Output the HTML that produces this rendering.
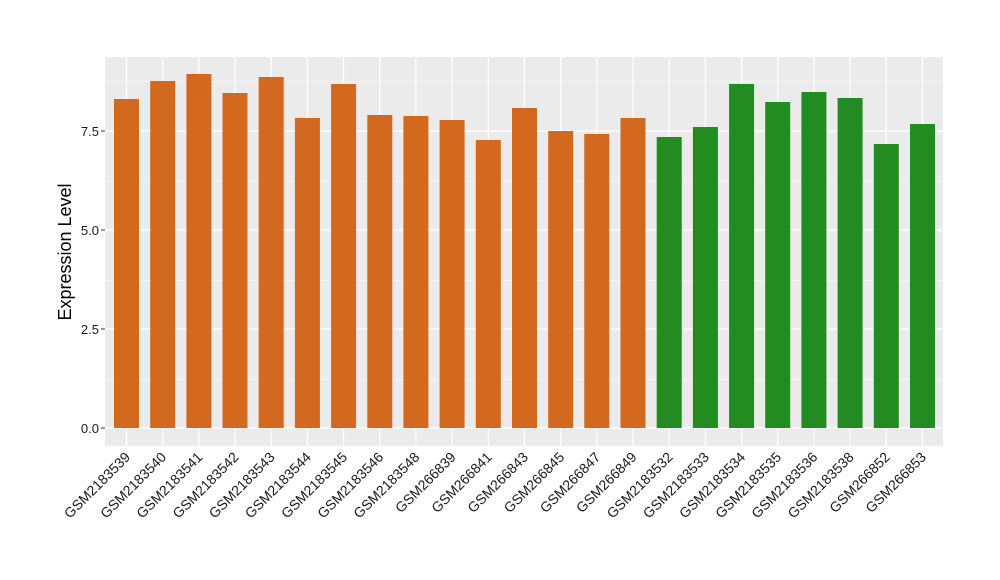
<!DOCTYPE html>
<html><head><style>body{margin:0;background:#fff}svg{display:block}text{font-family:"Liberation Sans",Arial,sans-serif}</style></head>
<body>
<svg width="1000" height="580" xmlns="http://www.w3.org/2000/svg">
<rect x="105" y="57" width="838" height="389" fill="#EBEBEB"/>
<g stroke="#fff" stroke-width="0.6">
<line x1="105" x2="943" y1="379.5" y2="379.5"/><line x1="105" x2="943" y1="280.5" y2="280.5"/><line x1="105" x2="943" y1="181" y2="181"/><line x1="105" x2="943" y1="81.5" y2="81.5"/>
</g>
<g stroke="#fff" stroke-width="1.2">
<line x1="105" x2="943" y1="428" y2="428"/><line x1="105" x2="943" y1="329" y2="329"/><line x1="105" x2="943" y1="230" y2="230"/><line x1="105" x2="943" y1="131" y2="131"/>
<line x1="126.5" x2="126.5" y1="57" y2="446"/><line x1="162.7" x2="162.7" y1="57" y2="446"/><line x1="198.9" x2="198.9" y1="57" y2="446"/><line x1="235" x2="235" y1="57" y2="446"/><line x1="271.2" x2="271.2" y1="57" y2="446"/><line x1="307.4" x2="307.4" y1="57" y2="446"/><line x1="343.6" x2="343.6" y1="57" y2="446"/><line x1="379.8" x2="379.8" y1="57" y2="446"/><line x1="415.9" x2="415.9" y1="57" y2="446"/><line x1="452.1" x2="452.1" y1="57" y2="446"/><line x1="488.3" x2="488.3" y1="57" y2="446"/><line x1="524.5" x2="524.5" y1="57" y2="446"/><line x1="560.7" x2="560.7" y1="57" y2="446"/><line x1="596.8" x2="596.8" y1="57" y2="446"/><line x1="633" x2="633" y1="57" y2="446"/><line x1="669.2" x2="669.2" y1="57" y2="446"/><line x1="705.4" x2="705.4" y1="57" y2="446"/><line x1="741.6" x2="741.6" y1="57" y2="446"/><line x1="777.7" x2="777.7" y1="57" y2="446"/><line x1="813.9" x2="813.9" y1="57" y2="446"/><line x1="850.1" x2="850.1" y1="57" y2="446"/><line x1="886.3" x2="886.3" y1="57" y2="446"/><line x1="922.5" x2="922.5" y1="57" y2="446"/>
</g>
<g fill="#D2691E">
<rect x="114" y="99" width="25" height="329"/><rect x="150.2" y="81" width="25" height="347"/><rect x="186.4" y="74" width="25" height="354"/><rect x="222.5" y="93" width="25" height="335"/><rect x="258.7" y="77" width="25" height="351"/><rect x="294.9" y="118" width="25" height="310"/><rect x="331.1" y="84" width="25" height="344"/><rect x="367.3" y="115" width="25" height="313"/><rect x="403.4" y="116" width="25" height="312"/><rect x="439.6" y="120" width="25" height="308"/><rect x="475.8" y="140" width="25" height="288"/><rect x="512" y="108" width="25" height="320"/><rect x="548.2" y="131" width="25" height="297"/><rect x="584.3" y="134" width="25" height="294"/><rect x="620.5" y="118" width="25" height="310"/>
</g>
<g fill="#228B22">
<rect x="656.7" y="137" width="25" height="291"/><rect x="692.9" y="127" width="25" height="301"/><rect x="729.1" y="84" width="25" height="344"/><rect x="765.2" y="102" width="25" height="326"/><rect x="801.4" y="92" width="25" height="336"/><rect x="837.6" y="98" width="25" height="330"/><rect x="873.8" y="144" width="25" height="284"/><rect x="910" y="124" width="25" height="304"/>
</g>
<g stroke="#333" stroke-width="1">
<line x1="101" x2="105" y1="428" y2="428"/><line x1="101" x2="105" y1="329" y2="329"/><line x1="101" x2="105" y1="230" y2="230"/><line x1="101" x2="105" y1="131" y2="131"/>
</g>
<g font-size="13" fill="#1a1a1a" text-anchor="end">
<text x="99" y="433">0.0</text><text x="99" y="334">2.5</text><text x="99" y="235">5.0</text><text x="99" y="136">7.5</text>
</g>
<text transform="translate(71,252) rotate(-90)" font-size="18" text-anchor="middle" fill="#000">Expression Level</text>
<g font-size="14" fill="#1a1a1a" text-anchor="end">
<text transform="translate(131,458) rotate(-45)">GSM2183539</text>
<text transform="translate(167.2,458) rotate(-45)">GSM2183540</text>
<text transform="translate(203.4,458) rotate(-45)">GSM2183541</text>
<text transform="translate(239.5,458) rotate(-45)">GSM2183542</text>
<text transform="translate(275.7,458) rotate(-45)">GSM2183543</text>
<text transform="translate(311.9,458) rotate(-45)">GSM2183544</text>
<text transform="translate(348.1,458) rotate(-45)">GSM2183545</text>
<text transform="translate(384.3,458) rotate(-45)">GSM2183546</text>
<text transform="translate(420.4,458) rotate(-45)">GSM2183548</text>
<text transform="translate(456.6,458) rotate(-45)">GSM266839</text>
<text transform="translate(492.8,458) rotate(-45)">GSM266841</text>
<text transform="translate(529,458) rotate(-45)">GSM266843</text>
<text transform="translate(565.2,458) rotate(-45)">GSM266845</text>
<text transform="translate(601.3,458) rotate(-45)">GSM266847</text>
<text transform="translate(637.5,458) rotate(-45)">GSM266849</text>
<text transform="translate(673.7,458) rotate(-45)">GSM2183532</text>
<text transform="translate(709.9,458) rotate(-45)">GSM2183533</text>
<text transform="translate(746.1,458) rotate(-45)">GSM2183534</text>
<text transform="translate(782.2,458) rotate(-45)">GSM2183535</text>
<text transform="translate(818.4,458) rotate(-45)">GSM2183536</text>
<text transform="translate(854.6,458) rotate(-45)">GSM2183538</text>
<text transform="translate(890.8,458) rotate(-45)">GSM266852</text>
<text transform="translate(927,458) rotate(-45)">GSM266853</text>
</g>
</svg>
</body></html>
